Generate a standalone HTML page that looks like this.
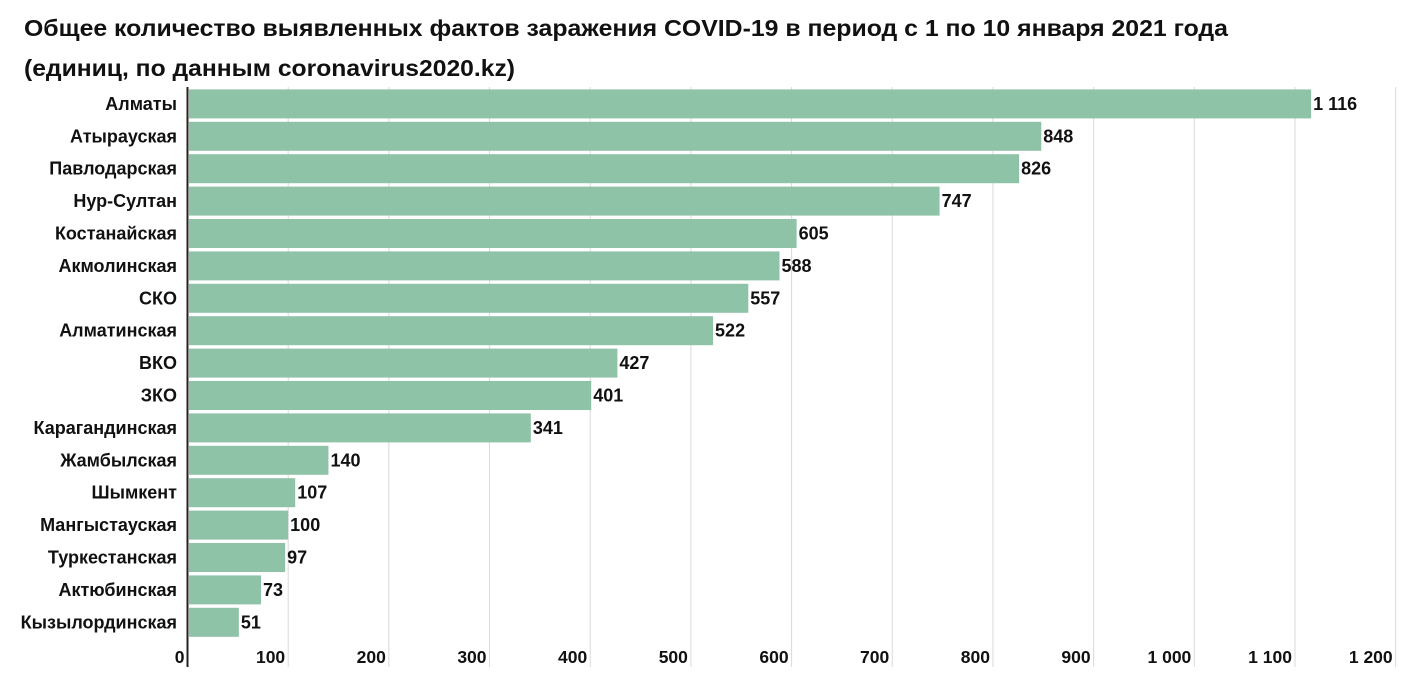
<!DOCTYPE html>
<html><head><meta charset="utf-8"><style>
html,body{margin:0;padding:0;background:#fff;}
svg{display:block;font-family:"Liberation Sans",sans-serif;}
</style></head><body>
<svg id="chart" width="1410" height="688">
<text x="24" y="36" font-size="23" font-weight="bold" fill="#111" textLength="1204" lengthAdjust="spacingAndGlyphs">Общее количество выявленных фактов заражения COVID-19 в период с 1 по 10 января 2021 года</text>
<text x="24" y="76" font-size="23" font-weight="bold" fill="#111" textLength="491" lengthAdjust="spacingAndGlyphs">(единиц, по данным coronavirus2020.kz)</text>
<g id="grid"></g><g id="bars"></g><g id="labels"></g>
</svg>
<script>
const categories=["Алматы","Атырауская","Павлодарская","Нур-Султан","Костанайская","Акмолинская","СКО","Алматинская","ВКО","ЗКО","Карагандинская","Жамбылская","Шымкент","Мангыстауская","Туркестанская","Актюбинская","Кызылординская"];
const values=[1116,848,826,747,605,588,557,522,427,401,341,140,107,100,97,73,51];
const ticks=[0,100,200,300,400,500,600,700,800,900,1000,1100,1200];
const tickLabels=["0","100","200","300","400","500","600","700","800","900","1 000","1 100","1 200"];
const NS="http://www.w3.org/2000/svg";
const x0=187.5,scale=1.0068;
const xs=v=>x0+v*scale;
const y0=89.4,pitch=32.4,bh=29;
const ys=i=>y0+i*pitch;
function mk(tag,attrs,parent,txt){const e=document.createElementNS(NS,tag);for(const k in attrs)e.setAttribute(k,attrs[k]);if(txt!==undefined)e.textContent=txt;document.getElementById(parent).appendChild(e);return e;}
const fmt=v=>String(v).replace(/\B(?=(\d{3})+(?!\d))/g," ");
ticks.forEach((t,i)=>{
  if(i>0){const g=mk('line',{x1:xs(t),x2:xs(t),y1:87,y2:667,stroke:'#d9d9d9','stroke-width':1},'grid');
  
  }
  const l=mk('text',{x:xs(t)-3,y:663,'font-size':17.5,'font-weight':'bold','text-anchor':'end',fill:'#111'},'labels',tickLabels[i]);
  
  
});
values.forEach((v,i)=>{
  const r=mk('rect',{x:xs(0)+1.5,y:ys(i),width:Math.max(0,xs(v)-xs(0)-1.5),height:bh,fill:'#8fc3a7'},'bars');
  
  
  const c=mk('text',{x:177,y:ys(i)+bh/2+6,'font-size':18,'font-weight':'bold','text-anchor':'end',fill:'#111'},'labels',categories[i]);
  
  
  const vl=mk('text',{x:xs(v)+2,y:ys(i)+bh/2+6,'font-size':18,'font-weight':'bold',fill:'#111'},'labels',fmt(v));
  
  
});
const ax=mk('line',{x1:187.5,x2:187.5,y1:87,y2:667,stroke:'#222','stroke-width':2},'labels');


</script>
</body></html>
